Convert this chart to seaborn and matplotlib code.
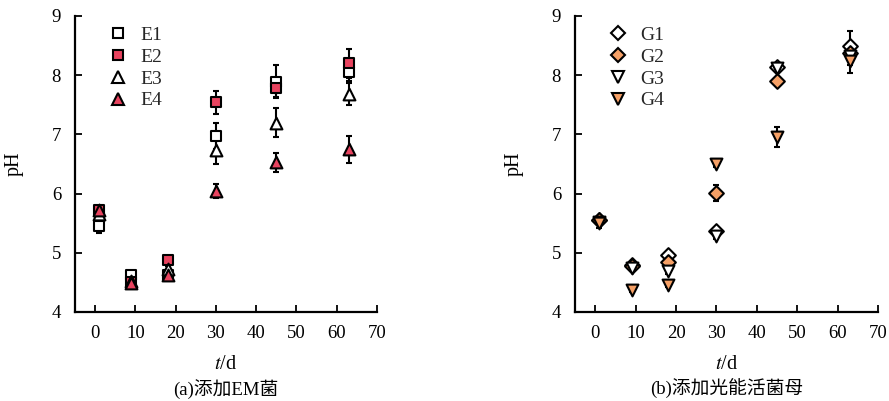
import matplotlib
matplotlib.use("Agg")
import matplotlib.pyplot as plt
import seaborn as sns
import pandas as pd
import numpy as np
from matplotlib.lines import Line2D

sns.set_theme(style="white")
plt.rcParams['font.family'] = ['Liberation Serif', 'Noto Sans CJK SC']
plt.rcParams['mathtext.fontset'] = 'stix'

days = [1, 9, 18, 30, 45, 63]

E1 = [5.46, 4.62, 4.62, 6.97, 7.89, 8.06]
E2 = [5.72, 4.50, 4.88, 7.54, 7.78, 8.20]
E3 = [5.66, 4.52, 4.72, 6.73, 7.20, 7.68]
E4 = [5.72, 4.49, 4.63, 6.05, 6.53, 6.75]
E1_err = [0.12, 0.05, 0.05, 0.22, 0.28, 0.15]
E2_err = [0.05, 0.05, 0.05, 0.20, 0.15, 0.25]
E3_err = [0.05, 0.05, 0.05, 0.23, 0.25, 0.19]
E4_err = [0.05, 0.04, 0.05, 0.12, 0.16, 0.23]

G1 = [5.56, 4.79, 4.97, 5.36, 8.14, 8.50]
G2 = [5.55, 4.77, 4.84, 6.01, 7.90, 8.37]
G3 = [5.52, 4.74, 4.70, 5.29, 8.12, 8.33]
G4 = [5.50, 4.37, 4.46, 6.50, 6.95, 8.24]
G1_err = [0.05, 0.04, 0.05, 0.05, 0.05, 0.25]
G2_err = [0.05, 0.04, 0.05, 0.13, 0.05, 0.15]
G3_err = [0.05, 0.04, 0.05, 0.05, 0.05, 0.15]
G4_err = [0.08, 0.04, 0.04, 0.05, 0.17, 0.20]

RED = '#E8435F'
ORANGE = '#F5A066'

left_series = [
    ('E1', E1, E1_err, 's', 'white'),
    ('E2', E2, E2_err, 's', RED),
    ('E3', E3, E3_err, '^', 'white'),
    ('E4', E4, E4_err, '^', RED),
]
right_series = [
    ('G1', G1, G1_err, 'D', 'white'),
    ('G2', G2, G2_err, 'D', ORANGE),
    ('G3', G3, G3_err, 'v', 'white'),
    ('G4', G4, G4_err, 'v', ORANGE),
]

fig = plt.figure(figsize=(8.89, 4.01), dpi=100)
axL = fig.add_axes([75/889, 1-312/401, (377-75)/889, (312-16)/401])
axR = fig.add_axes([575/889, 1-312/401, (878-575)/889, (312-16)/401])


def draw(ax, series, caption):
    handles = []
    for name, vals, errs, mk, fc in series:
        df = pd.DataFrame({'t': days, 'pH': vals})
        ms = {'s': 7.5, 'D': 7.5, '^': 8.5, 'v': 8.5}[mk]
        ax.errorbar(days, vals, yerr=errs, fmt='none', ecolor='black',
                    elinewidth=1.5, capsize=2.5, capthick=1.5, zorder=2)
        sns.scatterplot(data=df, x='t', y='pH', ax=ax, marker=mk,
                        s=ms**2, color=fc, edgecolor='black', linewidth=1.5,
                        zorder=3, legend=False)
        handles.append(Line2D([], [], linestyle='none', marker=mk,
                              markersize=ms*0.95, markerfacecolor=fc,
                              markeredgecolor='black', markeredgewidth=1.5,
                              label=name))
    ax.set_xlim(-5, 70)
    ax.set_ylim(4, 9)
    ax.set_xticks(range(0, 71, 10))
    ax.set_yticks(range(4, 10))
    for s in ['top', 'right']:
        ax.spines[s].set_visible(False)
    for s in ['left', 'bottom']:
        ax.spines[s].set_color('black')
        ax.spines[s].set_linewidth(1.6)
    ax.tick_params(direction='in', length=5, width=1.3, colors='black',
                   labelsize=13.5, left=True, bottom=True)
    ax.tick_params(axis='y', pad=10)
    ax.tick_params(axis='x', pad=9)
    ax.set_xlabel('$t$/d', fontsize=14.5, labelpad=10, color='black')
    ax.set_ylabel('pH', fontsize=14.5, labelpad=20, color='black')
    ax.legend(handles=handles, loc='upper left', bbox_to_anchor=(0.065, 1.005),
              frameon=False, fontsize=14, handletextpad=0.55,
              labelspacing=0.22, borderaxespad=0.2, handlelength=1.2)
    ax.text(0.5, -0.225, caption, transform=ax.transAxes, ha='center',
            va='top', fontsize=13.5, color='black')
    ax.grid(False)


draw(axL, left_series, '(a)添加EM菌')
draw(axR, right_series, '(b)添加光能活菌母')

fig.savefig('out.png', dpi=100)
